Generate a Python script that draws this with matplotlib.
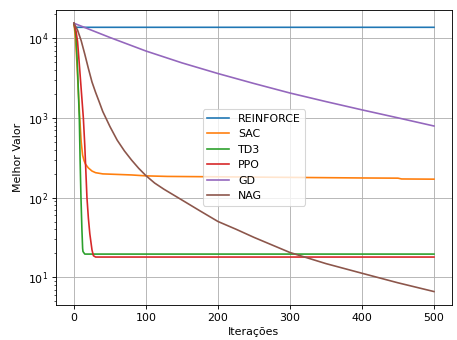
import numpy as np
import matplotlib
matplotlib.use("Agg")
import matplotlib.pyplot as plt

# values (x = iteration, y = best value)
reinforce_x = [0, 1, 500]
reinforce_y = [15400, 13700, 13700]

sac_x = [0, 2, 4, 6, 8, 10, 12, 14, 16, 20, 25, 30, 40, 60, 80, 100, 130, 200, 300, 400, 450, 455, 500]
sac_y = [15400, 10000, 5000, 2200, 1000, 500, 340, 290, 262, 235, 215, 205, 198, 195, 192, 187, 184, 182, 179, 176, 175, 171, 170]

td3_x = [0, 2, 3, 5, 7.4, 8.5, 9.7, 11, 12, 12.5, 15, 500]
td3_y = [15400, 12000, 10000, 4000, 1000, 300, 100, 40, 23, 21, 19.5, 19.5]

ppo_x = [0, 3, 5, 8, 10, 13, 15, 18, 20, 22, 25, 27, 30, 500]
ppo_y = [15400, 12000, 9000, 4000, 2300, 1000, 450, 100, 55, 35, 22, 18.6, 17.9, 17.9]

gd_x = [0, 50, 100, 150, 200, 250, 300, 350, 400, 450, 500]
gd_y = [15400, 10200, 6900, 4900, 3600, 2700, 2050, 1600, 1260, 1000, 790]

nag_x = [0, 5, 10, 15, 20, 25, 30, 35, 40, 50, 60, 70, 80, 90, 100, 112, 125, 150, 175, 200, 225, 250, 300, 350, 400, 450, 500]
nag_y = [15400, 12600, 9300, 6300, 4170, 2820, 2090, 1590, 1200, 776, 525, 385, 295, 232, 188, 152, 127, 93, 68, 50, 40, 31.6, 20.4, 14.8, 11.2, 8.5, 6.6]

series = [
    ("REINFORCE", reinforce_x, reinforce_y),
    ("SAC", sac_x, sac_y),
    ("TD3", td3_x, td3_y),
    ("PPO", ppo_x, ppo_y),
    ("GD", gd_x, gd_y),
    ("NAG", nag_x, nag_y),
]

fig = plt.figure(figsize=(5.785, 4.304), dpi=79)
ax = fig.add_axes([0.1225, 0.103, 0.8665, 0.868])
for name, xs, ys in series:
    ax.plot(xs, ys, label=name)
ax.set_yscale("log")
ax.set_xlabel("Iterações")
ax.set_ylabel("Melhor Valor")
ax.grid(True)
ax.legend(loc="center")
fig.savefig("out.png", dpi=79)
